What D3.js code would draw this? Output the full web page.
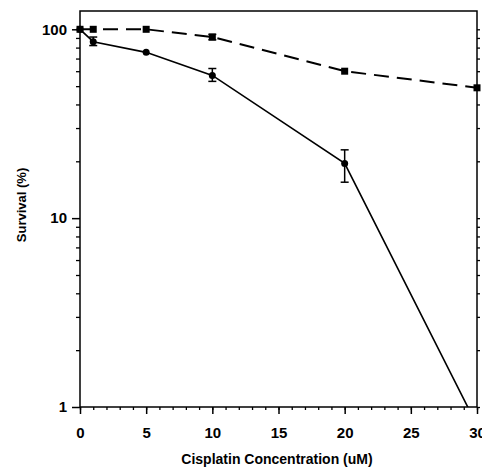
<!DOCTYPE html>
<html>
<head>
<meta charset="utf-8">
<script src="https://cdn.jsdelivr.net/npm/d3@7"></script>
<style>
  html, body { margin: 0; padding: 0; background: #fff; }
  svg { display: block; }
  text { font-family: "Liberation Sans", Arial, sans-serif; font-weight: bold; fill: #000; }
</style>
</head>
<body>
<script>
// Cisplatin concentrations (uM)
const doses = [0, 1, 5, 10, 20, 30];

// Survival (%) — solid line with circles
const survivalSolid = [100, 86, 75.5, 57, 19.5, 0.8];
const errLowSolid  = [100, 82, 75.5, 53, 15.5, 0.8];
const errHighSolid = [100, 91, 75.5, 62, 23, 0.8];

// Survival (%) — dashed line with squares
const survivalDashed = [100, 100, 100, 91, 60, 49];
const errLowDashed  = [100, 100, 100, 88, 60, 49];
const errHighDashed = [100, 100, 100, 94, 60, 49];

const xTicks = [0, 5, 10, 15, 20, 25, 30];
const yTicks = [1, 10, 100];

const W = 482, H = 474;
const m = { left: 80, right: 5, top: 11, bottom: 67 };

const svg = d3.select("body").append("svg").attr("width", W).attr("height", H);

const x = d3.scaleLinear().domain([0, 30]).range([m.left, W - m.right]);
const y = d3.scaleLog().domain([1, 125]).range([H - m.bottom, m.top]);

const x0 = x.range()[0], x1 = x.range()[1];
const y0 = y.range()[0], y1 = y.range()[1];

// clip region for the data
svg.append("defs").append("clipPath").attr("id", "plot")
  .append("rect").attr("x", x0 - 6).attr("y", y1 - 6)
  .attr("width", x1 - x0 + 12).attr("height", y0 - y1 + 6);

// frame
svg.append("rect").attr("x", x0).attr("y", y1)
  .attr("width", x1 - x0).attr("height", y0 - y1)
  .attr("fill", "none").attr("stroke", "#000").attr("stroke-width", 1.5);

const tickFont = g => g.selectAll("text")
  .attr("font-size", 15)
  .attr("font-family", "Liberation Sans, Arial, sans-serif")
  .attr("font-weight", "bold");

// x axis: major ticks every 5, minor every 1
const xAxis = svg.append("g").attr("transform", `translate(0,${y0})`);
xAxis.call(d3.axisBottom(x).tickValues(d3.range(0, 31, 1)).tickSize(3).tickFormat(""))
  .call(g => g.select(".domain").remove())
  .selectAll("line").attr("stroke-width", 1.3);
const xMajor = svg.append("g").attr("transform", `translate(0,${y0})`);
xMajor.call(d3.axisBottom(x).tickValues(xTicks).tickSize(7).tickPadding(13).tickFormat(d3.format("d")))
  .call(g => g.select(".domain").remove())
  .call(g => g.selectAll("line").attr("stroke-width", 1.5))
  .call(tickFont);

// y axis (log): minor ticks 2..9 of each decade
const minorY = [];
for (let d = 1; d < 125; d *= 10) for (let k = 2; k <= 9; k++) if (d * k <= 125) minorY.push(d * k);
const yAxis = svg.append("g").attr("transform", `translate(${x0},0)`);
yAxis.call(d3.axisLeft(y).tickValues(minorY).tickSize(4).tickFormat(""))
  .call(g => g.select(".domain").remove())
  .selectAll("line").attr("stroke-width", 1.3);
const yMajor = svg.append("g").attr("transform", `translate(${x0},0)`);
yMajor.call(d3.axisLeft(y).tickValues(yTicks).tickSize(8).tickPadding(5).tickFormat(d3.format("d")))
  .call(g => g.select(".domain").remove())
  .call(g => g.selectAll("line").attr("stroke-width", 1.5))
  .call(tickFont);

// right-side ticks
const yRight = svg.append("g").attr("transform", `translate(${x1},0)`);
yRight.call(d3.axisRight(y).tickValues(minorY.concat(yTicks)).tickSize(3).tickFormat(""))
  .call(g => g.select(".domain").remove())
  .selectAll("line").attr("stroke-width", 1.3);

// axis titles
svg.append("text").attr("x", 277).attr("y", 464).attr("text-anchor", "middle")
  .attr("font-size", 14).text("Cisplatin Concentration (uM)");
svg.append("text").attr("transform", `translate(26,205) rotate(-90)`)
  .attr("text-anchor", "middle").attr("font-size", 13).text("Survival (%)");

const plot = svg.append("g").attr("clip-path", "url(#plot)");

function series(vals, lo, hi, dashed, shape) {
  const pts = doses.map((d, i) => ({ x: d, v: vals[i], lo: lo[i], hi: hi[i] }));
  const line = d3.line().x(d => x(d.x)).y(d => y(d.v));
  plot.append("path").datum(pts).attr("d", line)
    .attr("fill", "none").attr("stroke", "#000")
    .attr("stroke-width", dashed ? 2 : 1.6)
    .attr("stroke-dasharray", dashed ? "15,8" : null);
  // error bars
  const eb = plot.append("g").selectAll("g").data(pts.filter(p => p.hi !== p.lo)).join("g");
  eb.append("line").attr("x1", d => x(d.x)).attr("x2", d => x(d.x))
    .attr("y1", d => y(d.lo)).attr("y2", d => y(d.hi)).attr("stroke", "#000").attr("stroke-width", 1.5);
  eb.selectAll("line.cap").data(d => [d.lo, d.hi].map(v => ({ x: d.x, v }))).join("line")
    .attr("class", "cap")
    .attr("x1", d => x(d.x) - 4).attr("x2", d => x(d.x) + 4)
    .attr("y1", d => y(d.v)).attr("y2", d => y(d.v)).attr("stroke", "#000").attr("stroke-width", 1.5);
  // markers
  const visible = pts.filter(p => p.v >= 1);
  if (shape === "circle") {
    plot.append("g").selectAll("circle").data(visible).join("circle")
      .attr("cx", d => x(d.x)).attr("cy", d => y(d.v)).attr("r", 3.5).attr("fill", "#000");
  } else {
    plot.append("g").selectAll("rect").data(visible).join("rect")
      .attr("x", d => x(d.x) - 3.5).attr("y", d => y(d.v) - 3.5)
      .attr("width", 7).attr("height", 7).attr("fill", "#000");
  }
}

series(survivalDashed, errLowDashed, errHighDashed, true, "square");
series(survivalSolid, errLowSolid, errHighSolid, false, "circle");
</script>
</body>
</html>
